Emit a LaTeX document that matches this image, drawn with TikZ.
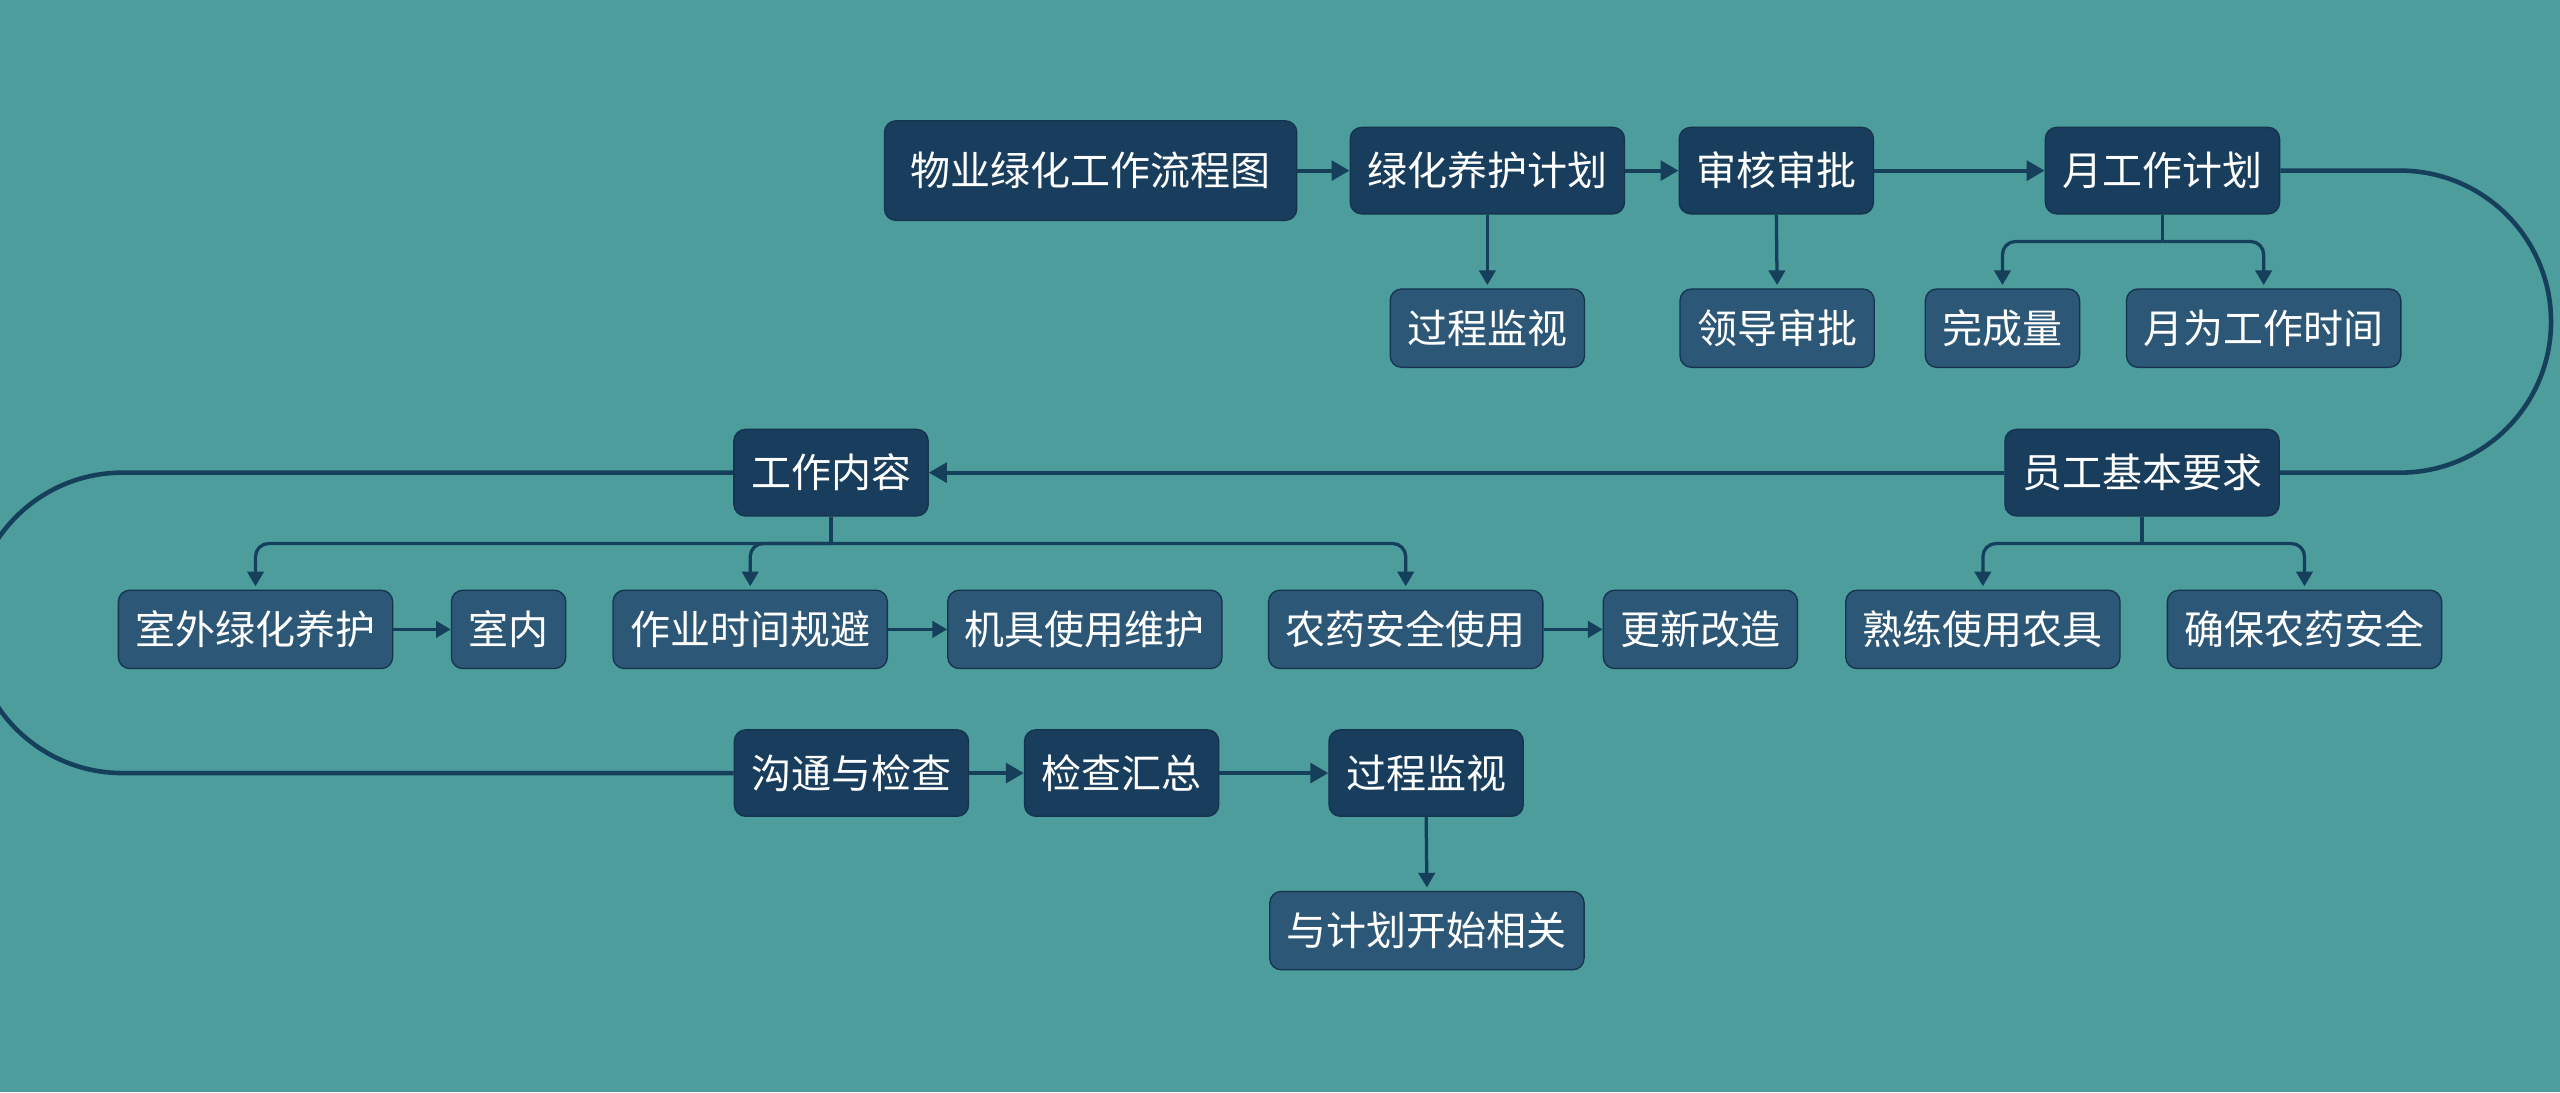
\documentclass[tikz,border=0pt]{standalone}
\usepackage{fontspec}
\newfontfamily\cjk{Noto Sans CJK SC}
\usetikzlibrary{arrows.meta}
\definecolor{bgc}{RGB}{77,157,156}
\definecolor{darkc}{RGB}{24,61,93}
\definecolor{subc}{RGB}{45,87,118}
\definecolor{linec}{RGB}{22,63,92}
\definecolor{bordc}{RGB}{20,52,78}
\begin{document}
\begin{tikzpicture}[x=1pt,y=-1pt,
  mainbox/.style={draw=bordc, fill=darkc, rounded corners=7pt, text=white,
    font=\cjk\fontsize{24.5}{24.5}\selectfont, inner xsep=10.5pt, inner ysep=0pt,
    minimum height=53pt, line width=0.8pt},
  subbox/.style={mainbox, fill=subc, minimum height=48pt},
  conn/.style={draw=linec, line width=2.4pt, -{Triangle[length=11pt,width=12pt]}},
  subconn/.style={draw=linec, line width=2pt, -{Triangle[length=9pt,width=10pt]}},
  brarrow/.style={draw=linec, line width=2pt, rounded corners=8pt, -{Triangle[length=9pt,width=10pt]}},
  stem/.style={draw=linec, line width=2pt},
  loopline/.style={draw=linec, line width=2.8pt},
]
\useasboundingbox (0,0) rectangle (1568,669);
\fill[bgc] (0,0) rectangle (1568,669);
\clip (0,0) rectangle (1568,669);

% row 1
\node[mainbox, minimum height=61pt, inner xsep=16pt] (A) at (668,104.5) {物业绿化工作流程图};
\node[mainbox] (B) at (911,104.5) {绿化养护计划};
\node[mainbox] (C) at (1088,104.5) {审核审批};
\node[mainbox] (D) at (1324.5,104.5) {月工作计划};
% row 2
\node[subbox] (B1) at (911,201) {过程监视};
\node[subbox] (C1) at (1088.5,201) {领导审批};
\node[subbox] (D1) at (1226.5,201) {完成量};
\node[subbox] (D2) at (1386.5,201) {月为工作时间};
% row 3
\node[mainbox] (E) at (1312,289.5) {员工基本要求};
\node[mainbox] (F) at (509,289.5) {工作内容};
% row 4
\node[subbox] (F1) at (156.5,385.5) {室外绿化养护};
\node[subbox] (F1a) at (311.5,385.5) {室内};
\node[subbox] (F2) at (459.5,385.5) {作业时间规避};
\node[subbox] (F2a) at (664.5,385.5) {机具使用维护};
\node[subbox] (F3) at (861,385.5) {农药安全使用};
\node[subbox] (F3a) at (1041.5,385.5) {更新改造};
\node[subbox] (E1) at (1214.5,385.5) {熟练使用农具};
\node[subbox] (E2) at (1411.5,385.5) {确保农药安全};
% row 5
\node[mainbox] (G) at (521.5,473.5) {沟通与检查};
\node[mainbox] (H) at (687,473.5) {检查汇总};
\node[mainbox] (I) at (873.5,473.5) {过程监视};
% row 6
\node[subbox] (I1) at (874,570) {与计划开始相关};

% main flow
\draw[conn] (A.east) -- (B.west);
\draw[conn] (B.east) -- (C.west);
\draw[conn] (C.east) -- (D.west);
\draw[loopline] (D.east) -- (1470,104.5) arc[start angle=90,end angle=-90,radius=92.5pt] -- (E.east);
\draw[conn] (E.west) -- (F.east);
\draw[loopline] (F.west) -- (75,289.5) arc[start angle=90,end angle=270,radius=92pt] -- (G.west);
\draw[conn] (G.east) -- (H.west);
\draw[conn] (H.east) -- (I.west);
\draw[subconn, shorten >=2pt] (I.south) -- (I1.north);

% row 1 children
\draw[subconn, shorten >=2pt] (B.south) -- (B1.north);
\draw[subconn, shorten >=2pt] (C.south) -- (C1.north);
\path (D.south) ++(0,16.5) coordinate (dj);
\draw[stem] (D.south) -- (dj);
\draw[brarrow, shorten >=2pt] (dj) -| (D1.north);
\draw[brarrow, shorten >=2pt] (dj) -| (D2.north);

% E children
\path (E.south) ++(0,16.5) coordinate (ej);
\draw[stem] (E.south) -- (ej);
\draw[brarrow, shorten >=2pt] (ej) -| (E1.north);
\draw[brarrow, shorten >=2pt] (ej) -| (E2.north);

% F children
\path (F.south) ++(0,16.5) coordinate (fj);
\draw[stem] (F.south) -- (fj);
\draw[brarrow, shorten >=2pt] (fj) -| (F1.north);
\draw[brarrow, shorten >=2pt] (fj) -| (F2.north);
\draw[brarrow, shorten >=2pt] (fj) -| (F3.north);

% row 4 sequences
\draw[subconn] (F1.east) -- (F1a.west);
\draw[subconn] (F2.east) -- (F2a.west);
\draw[subconn] (F3.east) -- (F3a.west);
\end{tikzpicture}
\end{document}
